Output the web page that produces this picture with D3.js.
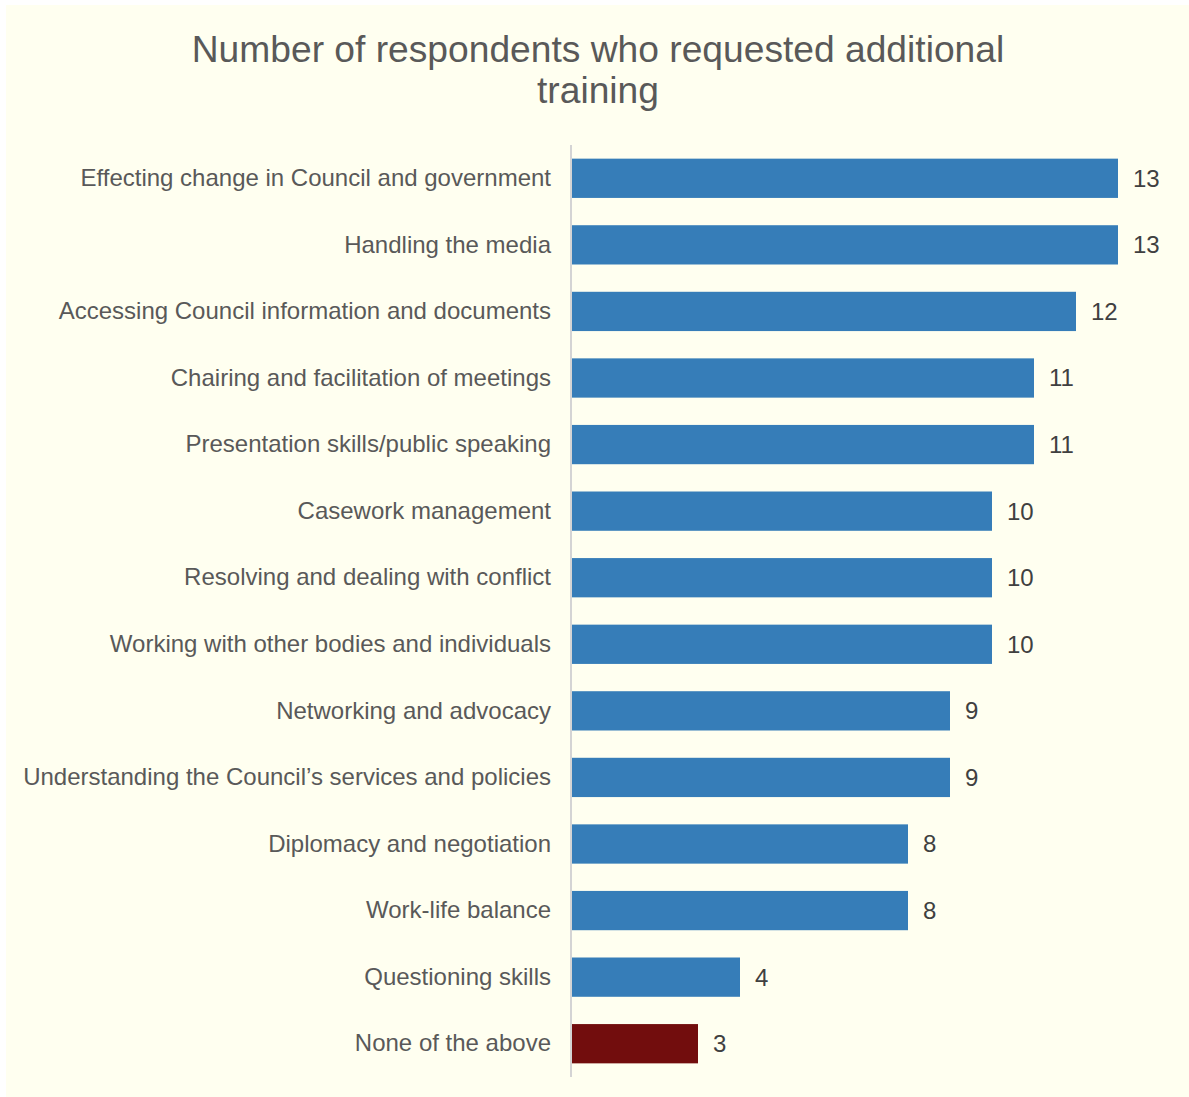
<!DOCTYPE html>
<html>
<head>
<meta charset="utf-8">
<script src="https://cdn.jsdelivr.net/npm/d3@7"></script>
<style>
  html, body { margin: 0; padding: 0; background: #ffffff; }
  svg { display: block; }
  text { font-family: "Liberation Sans", Arial, sans-serif; }
</style>
</head>
<body>
<svg id="chart" width="1189" height="1097"></svg>
<script>
// Training topics requested by respondents, listed top to bottom
const categories = [
  "Effecting change in Council and government",
  "Handling the media",
  "Accessing Council information and documents",
  "Chairing and facilitation of meetings",
  "Presentation skills/public speaking",
  "Casework management",
  "Resolving and dealing with conflict",
  "Working with other bodies and individuals",
  "Networking and advocacy",
  "Understanding the Council\u2019s services and policies",
  "Diplomacy and negotiation",
  "Work-life balance",
  "Questioning skills",
  "None of the above"
];
const counts = [13, 13, 12, 11, 11, 10, 10, 10, 9, 9, 8, 8, 4, 3];
const titleLines = ["Number of respondents who requested additional", "training"];

const svg = d3.select("#chart");
const W = 1189, H = 1097;

// panel background
svg.append("rect")
  .attr("x", 6).attr("y", 5)
  .attr("width", W - 6).attr("height", H - 5)
  .attr("fill", "#fffff0");

const plot = { left: 572, top: 145, bottom: 1077 };

const x = d3.scaleLinear().domain([0, 13]).range([plot.left, plot.left + 546]);
const y = d3.scaleBand().domain(categories).range([plot.top, plot.bottom]).paddingInner(0.41).paddingOuter(0.205);

// title
svg.append("text")
  .attr("x", 598).attr("y", 62)
  .attr("text-anchor", "middle")
  .attr("fill", "#595959")
  .attr("font-size", 37.2)
  .selectAll("tspan")
  .data(titleLines)
  .join("tspan")
  .attr("x", 598)
  .attr("dy", (d, i) => i === 0 ? 0 : 41)
  .text(d => d);

// bars
svg.append("g")
  .selectAll("rect")
  .data(categories)
  .join("rect")
  .attr("x", x(0))
  .attr("y", d => y(d))
  .attr("width", (d, i) => x(counts[i]) - x(0))
  .attr("height", y.bandwidth())
  .attr("fill", d => d === "None of the above" ? "#720d0d" : "#367db8");

// value labels
svg.append("g")
  .selectAll("text")
  .data(categories)
  .join("text")
  .attr("x", (d, i) => x(counts[i]) + 15)
  .attr("y", d => y(d) + y.bandwidth() / 2)
  .attr("dy", "0.35em")
  .attr("fill", "#404040")
  .attr("font-size", 24)
  .text((d, i) => counts[i]);

// category axis
const axis = svg.append("g")
  .attr("transform", `translate(${plot.left - 1},0)`)
  .call(d3.axisLeft(y).tickSize(0).tickPadding(20));
axis.select(".domain").attr("stroke", "#d4d4d4").attr("stroke-width", 2)
  .attr("d", `M0,${plot.top}V${plot.bottom}`);
axis.selectAll("text")
  .attr("fill", "#595959")
  .attr("font-size", 24)
  .attr("font-family", "Liberation Sans, Arial, sans-serif");
</script>
</body>
</html>
